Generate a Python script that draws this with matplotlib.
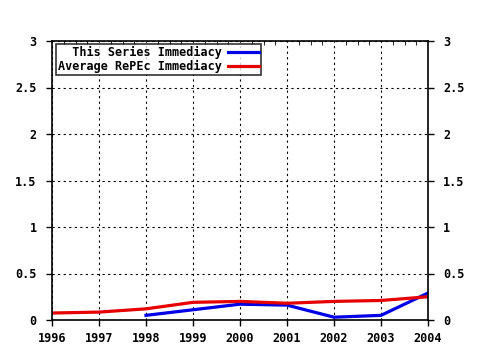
import matplotlib
matplotlib.use("Agg")
import matplotlib.pyplot as plt
from matplotlib.ticker import MultipleLocator

years = [1996, 1997, 1998, 1999, 2000, 2001, 2002, 2003, 2004]
serie_years = [1998, 1999, 2000, 2001, 2002, 2003, 2004]
serie_vals = [0.05, 0.11, 0.17, 0.16, 0.03, 0.05, 0.29]
repec_vals = [0.075, 0.085, 0.12, 0.19, 0.20, 0.18, 0.20, 0.21, 0.25]
y_ticks = [0, 0.5, 1, 1.5, 2, 2.5, 3]
y_labels = ["0", "0.5", "1", "1.5", "2", "2.5", "3"]

plt.rcParams['font.family'] = ['DejaVu Sans Mono']
plt.rcParams['font.weight'] = 'bold'

fig = plt.figure(figsize=(4.8, 3.5), dpi=100)
ax = fig.add_axes([52/480, 30/350, 376/480, 279/350])

# series
ax.plot(serie_years, serie_vals, color='#0000e6', lw=2.3, label='  This Series Immediacy')
ax.plot(years, repec_vals, color='#e60000', lw=2.3, label='Average RePEc Immediacy')

ax.set_xlim(1996, 2004)
ax.set_ylim(0, 3)
ax.set_xticks(years)
ax.set_xticklabels([str(y) for y in years], fontweight='bold')
ax.set_yticks(y_ticks)
ax.set_yticklabels(y_labels, fontweight='bold')
ax.xaxis.set_minor_locator(MultipleLocator(0.25))

ax.grid(True, which='major', color='black', linestyle=(0, (2, 3)), linewidth=0.8)
ax.tick_params(axis='both', which='major', labelsize=8.5, length=4, width=1, direction='out')
ax.tick_params(axis='x', pad=5)
ax.tick_params(axis='y', right=True, labelright=True, pad=7)
ax.tick_params(axis='x', which='minor', top=True, bottom=False, direction='in', length=3)
for t in ax.yaxis.get_major_ticks():
    t.label2.set_fontweight('bold')
for s in ax.spines.values():
    s.set_linewidth(1.2)

# legend: handles on the right of the text
leg = ax.legend(loc='upper left', bbox_to_anchor=(0.01, 0.99), markerfirst=False,
                frameon=True, fancybox=False, edgecolor='black', fontsize=8.5,
                handlelength=2.6, borderpad=0.15, labelspacing=0.1, handletextpad=0.6,
                borderaxespad=0)
leg.get_frame().set_linewidth(1.2)

fig.savefig('out.png', dpi=100)
